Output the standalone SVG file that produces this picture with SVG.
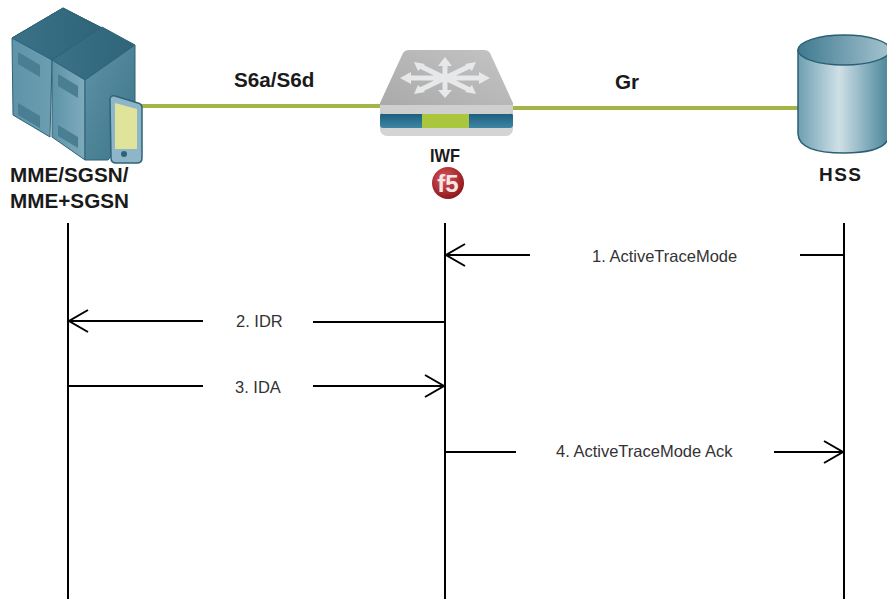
<svg xmlns="http://www.w3.org/2000/svg" width="887" height="599" viewBox="0 0 887 599">
<style>
.b{font-family:"Liberation Sans",Arial,sans-serif;font-weight:700;fill:#1a1a1a;font-size:20.7px}
.m{font-family:"Liberation Sans",Arial,sans-serif;fill:#333;font-size:16.5px}
.l{stroke:#000;stroke-width:2;fill:none}
.g{stroke:#a3b548;stroke-width:4;fill:none}
.h{stroke:#000;stroke-width:2;fill:none}
</style>
<defs>
<linearGradient id="side" x1="0" x2="1" y1="0" y2="0"><stop offset="0" stop-color="#5e93a8"/><stop offset="1" stop-color="#7fabbc"/></linearGradient>
<linearGradient id="dark" x1="0" x2="1" y1="0" y2="1"><stop offset="0" stop-color="#5f93a7"/><stop offset="1" stop-color="#3d7487"/></linearGradient>
<linearGradient id="top" x1="0" x2="1" y1="0" y2="0"><stop offset="0" stop-color="#3b7287"/><stop offset="1" stop-color="#2f6479"/></linearGradient>
<linearGradient id="cyl" x1="0" x2="1" y1="0" y2="0"><stop offset="0" stop-color="#6d9fb2"/><stop offset="0.45" stop-color="#cfe0e6"/><stop offset="0.85" stop-color="#6d9eb0"/><stop offset="1" stop-color="#4c8598"/></linearGradient>
<linearGradient id="cylTop" x1="0" x2="1" y1="0" y2="0"><stop offset="0" stop-color="#3f7a90"/><stop offset="1" stop-color="#a5c3cf"/></linearGradient>
<linearGradient id="sw" x1="0" x2="1" y1="1" y2="0"><stop offset="0" stop-color="#a8a8a8"/><stop offset="1" stop-color="#c4c4c4"/></linearGradient>
<linearGradient id="blue" x1="0" x2="0" y1="0" y2="1"><stop offset="0" stop-color="#1c5c7c"/><stop offset="1" stop-color="#3d86a4"/></linearGradient>
<radialGradient id="f5" cx="0.4" cy="0.35" r="0.7"><stop offset="0" stop-color="#d9555a"/><stop offset="1" stop-color="#8a1418"/></radialGradient>
</defs>

<g id="connectors">
<path class="g" d="M140 106H382"/>
<path class="g" d="M512 108H800"/>
<path class="l" d="M68 223V599"/>
<path class="l" d="M445 223V599"/>
<path class="l" d="M844 223V599"/>
<path class="l" d="M530 255H446"/><path class="h" d="M465 244L446 255L465 266"/>
<path class="l" d="M800 255H844"/>
<path class="l" d="M203 321H69"/><path class="h" d="M88 310L69 321L88 332"/>
<path class="l" d="M313 322H445"/>
<path class="l" d="M68 386H203"/>
<path class="l" d="M313 386H444"/><path class="h" d="M425 375L444 386L425 397"/>
<path class="l" d="M445 452H516"/>
<path class="l" d="M774 452H843"/><path class="h" d="M824 441L843 452L824 463"/>
</g>

<g id="mme">
<path d="M12 38L63 8L102 28L52 60L50 137L13 115Z" fill="url(#side)" stroke="#2c6378"/>
<path d="M12 38L63 8L102 28L52 60Z" fill="url(#top)" stroke="#2c6378"/>
<path d="M52 60L102 27L135 45L85 80Z" fill="url(#top)" stroke="#2c6378"/>
<path d="M52 60L85 80V160L52 137Z" fill="url(#side)" stroke="#2c6378"/>
<path d="M85 80L135 45V128L108 160H85Z" fill="url(#dark)" stroke="#2c6378"/>
<path d="M18 52L40 65V77L18 64ZM18 103L40 116V128L18 115ZM58 74L78 86V98L58 86ZM58 125L78 137V148L58 136Z" fill="#4a7f93"/>
<path d="M110 100Q110 95 115 96L138 103Q142 104 142 108V158Q142 163 137 163H116Q111 163 111 158Z" fill="#8fb6c8" stroke="#2c6378" stroke-width="1.5"/>
<path d="M115 103L137 109V149H115Z" fill="#e0e39a"/>
<circle cx="124" cy="154" r="3" fill="#2c6378"/>
<text class="b" x="10" y="182">MME/SGSN/</text>
<text class="b" x="10" y="208">MME+SGSN</text>
</g>

<g id="iwf">
<rect x="380" y="108" width="133" height="28" rx="7" fill="#d4d4d4"/>
<rect x="380" y="113" width="133" height="15" rx="3" fill="url(#blue)"/>
<rect x="422" y="113" width="47" height="15" fill="#a9c63c"/>
<path d="M380 103L403 53Q405 50 409 50H484Q488 50 490 53L513 103V111Q513 114 510 114H384Q380 114 380 111Z" fill="url(#sw)"/>
<path d="M380 105H513V111Q513 114 510 114H384Q380 114 380 111Z" fill="#cfcfcf"/>
<path d="M445 78L445 62M445 78L445 94M445 78L410 78M445 78L484 78M445 78L420 66M445 78L470 66M445 78L420 90M445 78L470 90" stroke="#e6e8e9" stroke-width="5" fill="none"/>
<path d="M445 57L438 66H452ZM445 98L438 90H452ZM400 78L411 72V84ZM490 78L479 72V84ZM414 62L425 64L418 71ZM476 62L465 64L472 71ZM414 94L425 92L418 85ZM476 94L465 92L472 85Z" fill="#e6e8e9"/>
<text class="b" x="430" y="162" style="font-size:18px" textLength="30" lengthAdjust="spacingAndGlyphs">IWF</text>
<circle cx="448" cy="183" r="16" fill="url(#f5)"/>
<text x="448" y="192" text-anchor="middle" font-family="Liberation Sans,sans-serif" font-weight="700" font-size="24" fill="#f4e6e6">f5</text>
</g>

<g id="hss">
<path d="M798 50V134Q799 153 844 153T889 134V50Z" fill="url(#cyl)" stroke="#2b5f73" stroke-width="1.5"/>
<ellipse cx="844" cy="50" rx="46" ry="15" fill="url(#cylTop)" stroke="#2b5f73" stroke-width="1.5"/>
<text class="b" x="819" y="181" style="font-size:19px" textLength="42" lengthAdjust="spacing">HSS</text>
</g>

<g id="labels">
<text class="b" x="234" y="87">S6a/S6d</text>
<text class="b" x="615" y="89">Gr</text>
<text class="m" x="592" y="262">1. ActiveTraceMode</text>
<text class="m" x="236" y="327">2. IDR</text>
<text class="m" x="235" y="393">3. IDA</text>
<text class="m" x="556" y="457">4. ActiveTraceMode Ack</text>
</g>
</svg>
